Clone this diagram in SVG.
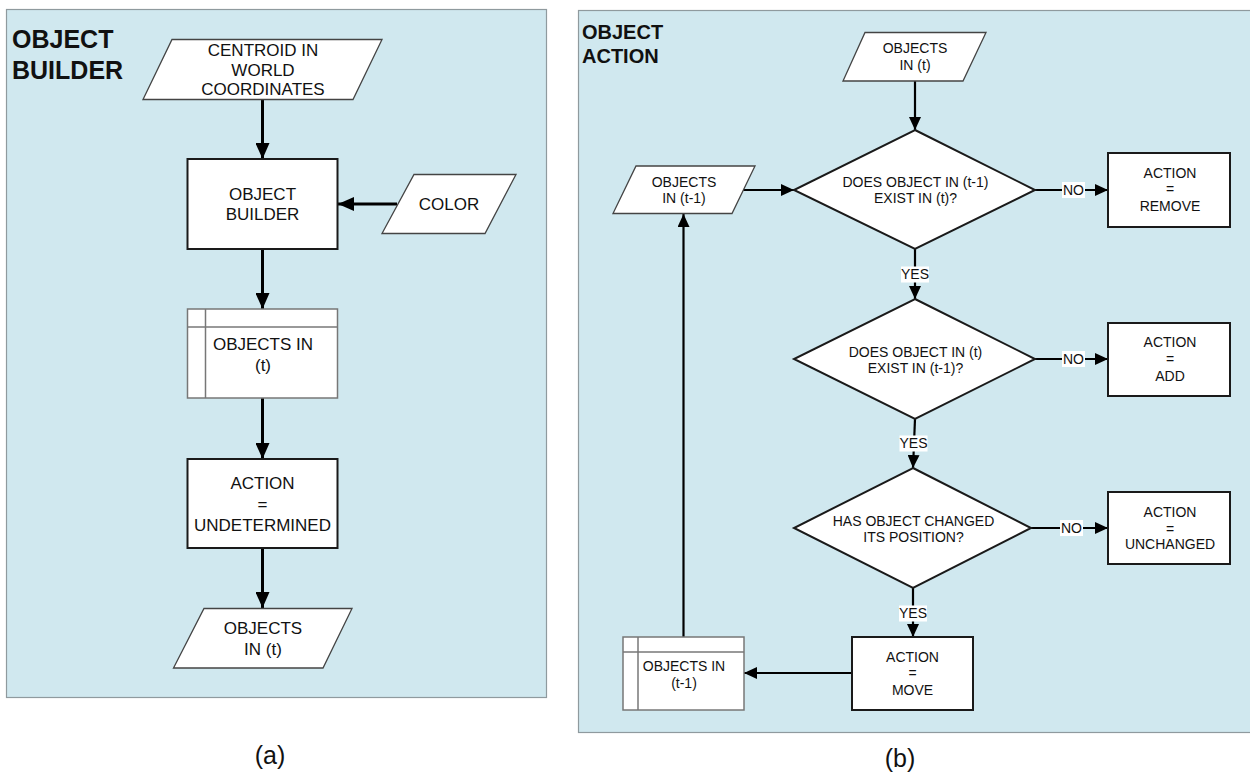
<svg xmlns="http://www.w3.org/2000/svg" width="1250" height="776" viewBox="0 0 1250 776">
  <style>
    text { font-family: "Liberation Sans", Arial, sans-serif; fill: #111; text-anchor: middle; }
    .title { font-weight: bold; text-anchor: start; }
    .t17 { font-size: 17px; }
    .t14 { font-size: 14px; }
    .cap { font-size: 25px; text-anchor: middle; }
    .panel { fill: #d0e8ef; stroke: #8f9a9e; stroke-width: 1.2; }
    .io { fill: #fff; stroke: #444; stroke-width: 1.3; }
    .proc { fill: #fff; stroke: #1a1a1a; stroke-width: 2; }
    .store { fill: #fff; stroke: #777; stroke-width: 1.5; }
    .storeline { fill: none; stroke: #777; stroke-width: 1.5; }
    .dec { fill: #fff; stroke: #1a1a1a; stroke-width: 2; }
    .wireL { fill: none; stroke: #000; stroke-width: 3; marker-end: url(#arrL); }
    .wireR { fill: none; stroke: #000; stroke-width: 2.2; marker-end: url(#arrR); }
    .lblbg { fill: #fff; }
  </style>
  <defs>
    <marker id="arrL" markerUnits="userSpaceOnUse" markerWidth="16" markerHeight="14" refX="16" refY="7" orient="auto">
      <path d="M0,0 L16,7 L0,14 z" fill="#000"/>
    </marker>
    <marker id="arrR" markerUnits="userSpaceOnUse" markerWidth="13" markerHeight="12" refX="13" refY="6" orient="auto">
      <path d="M0,0 L13,6 L0,12 z" fill="#000"/>
    </marker>
  </defs>

  <rect width="1250" height="776" fill="#fff"/>

  <!-- panel (a) -->
  <rect class="panel" x="6.5" y="9.5" width="540" height="688"/>
  <text class="title" x="12" y="48" font-size="25">OBJECT</text>
  <text class="title" x="12" y="79" font-size="25">BUILDER</text>

  <!-- panel (b) -->
  <rect class="panel" x="578.5" y="10.5" width="680" height="722"/>
  <text class="title" x="582" y="39" font-size="20">OBJECT</text>
  <text class="title" x="582" y="63" font-size="20">ACTION</text>

  <!-- connectors -->
  <g id="connectors">
    <line class="wireL" x1="262.5" y1="99" x2="262.5" y2="159"/>
    <line class="wireL" x1="397" y1="204" x2="338" y2="204"/>
    <line class="wireL" x1="262.5" y1="249" x2="262.5" y2="309"/>
    <line class="wireL" x1="262.5" y1="398" x2="262.5" y2="459"/>
    <line class="wireL" x1="262.5" y1="548" x2="262.5" y2="608"/>

    <line class="wireR" x1="915" y1="81" x2="915" y2="130"/>
    <line class="wireR" x1="743" y1="190" x2="794" y2="190"/>
    <line class="wireR" x1="1035" y1="190" x2="1108" y2="190"/>
    <line class="wireR" x1="915" y1="249" x2="915" y2="299"/>
    <line class="wireR" x1="1035" y1="359" x2="1108" y2="359"/>
    <line class="wireR" x1="915" y1="419" x2="913" y2="468"/>
    <line class="wireR" x1="1031" y1="528" x2="1108" y2="528"/>
    <line class="wireR" x1="913" y1="588" x2="913" y2="637"/>
    <line class="wireR" x1="852" y1="673" x2="744" y2="673"/>
    <line class="wireR" x1="683.5" y1="637" x2="683.5" y2="214"/>

    <rect class="lblbg" x="1062" y="182" width="23" height="16"/>
    <text class="t14" x="1073.5" y="195">NO</text>
    <rect class="lblbg" x="1062" y="351" width="23" height="16"/>
    <text class="t14" x="1073.5" y="364">NO</text>
    <rect class="lblbg" x="1060" y="520" width="23" height="16"/>
    <text class="t14" x="1071.5" y="533">NO</text>
    <rect class="lblbg" x="901" y="266.5" width="28" height="16"/>
    <text class="t14" x="915" y="279">YES</text>
    <rect class="lblbg" x="899.5" y="435.5" width="28" height="16"/>
    <text class="t14" x="913.5" y="448">YES</text>
    <rect class="lblbg" x="899" y="605.5" width="28" height="16"/>
    <text class="t14" x="913" y="618">YES</text>
  </g>

  <!-- nodes of panel (a) -->
  <g id="centroid-input">
    <polygon class="io" points="172,39.5 382,39.5 353,99.5 143,99.5"/>
    <text class="t17" x="263" y="56">CENTROID IN</text>
    <text class="t17" x="263" y="76">WORLD</text>
    <text class="t17" x="263" y="95">COORDINATES</text>
  </g>
  <g id="object-builder">
    <rect class="proc" x="187.5" y="159" width="150" height="90"/>
    <text class="t17" x="262.5" y="200">OBJECT</text>
    <text class="t17" x="262.5" y="220">BUILDER</text>
  </g>
  <g id="color-input">
    <polygon class="io" points="414,174.5 516,174.5 485,233.5 382,233.5"/>
    <text class="t17" x="449" y="210">COLOR</text>
  </g>
  <g id="objects-t-store">
    <rect class="store" x="187.5" y="309" width="150" height="89"/>
    <line class="storeline" x1="205.5" y1="309" x2="205.5" y2="398"/>
    <line class="storeline" x1="187.5" y1="327" x2="337.5" y2="327"/>
    <text class="t17" x="263" y="350">OBJECTS IN</text>
    <text class="t17" x="263" y="371">(t)</text>
  </g>
  <g id="action-undetermined">
    <rect class="proc" x="187.5" y="459" width="150" height="89"/>
    <text class="t17" x="262.5" y="489">ACTION</text>
    <text class="t17" x="262.5" y="510">=</text>
    <text class="t17" x="262.5" y="531">UNDETERMINED</text>
  </g>
  <g id="objects-t-output">
    <polygon class="io" points="204,608.5 352,608.5 323,668 173.5,668"/>
    <text class="t17" x="263" y="634">OBJECTS</text>
    <text class="t17" x="263" y="655">IN (t)</text>
  </g>

  <!-- nodes of panel (b) -->
  <g id="objects-t-input">
    <polygon class="io" points="865,32.5 986,32.5 963,81 843,81"/>
    <text class="t14" x="915" y="53">OBJECTS</text>
    <text class="t14" x="915" y="70">IN (t)</text>
  </g>
  <g id="objects-t1-input">
    <polygon class="io" points="636,166 755,166 732,213.5 613,213.5"/>
    <text class="t14" x="684" y="187">OBJECTS</text>
    <text class="t14" x="684" y="203">IN (t-1)</text>
  </g>
  <g id="decision-exists-in-t">
    <polygon class="dec" points="915,130 1035,190 915,249 794,190"/>
    <text class="t14" x="915.5" y="187">DOES OBJECT IN (t-1)</text>
    <text class="t14" x="915.5" y="203">EXIST IN (t)?</text>
  </g>
  <g id="action-remove">
    <rect class="proc" x="1108" y="153" width="122" height="74"/>
    <text class="t14" x="1170" y="178">ACTION</text>
    <text class="t14" x="1170" y="194">=</text>
    <text class="t14" x="1170" y="211">REMOVE</text>
  </g>
  <g id="decision-exists-in-t1">
    <polygon class="dec" points="915,299 1035,359 915,419 794,359"/>
    <text class="t14" x="915.5" y="357">DOES OBJECT IN (t)</text>
    <text class="t14" x="915.5" y="373">EXIST IN (t-1)?</text>
  </g>
  <g id="action-add">
    <rect class="proc" x="1108" y="323" width="122" height="73"/>
    <text class="t14" x="1170" y="347">ACTION</text>
    <text class="t14" x="1170" y="364">=</text>
    <text class="t14" x="1170" y="381">ADD</text>
  </g>
  <g id="decision-position-changed">
    <polygon class="dec" points="913,468 1031,528 913,588 794,528"/>
    <text class="t14" x="913.5" y="526">HAS OBJECT CHANGED</text>
    <text class="t14" x="913.5" y="542">ITS POSITION?</text>
  </g>
  <g id="action-unchanged">
    <rect class="proc" x="1108" y="492" width="122" height="72"/>
    <text class="t14" x="1170" y="517">ACTION</text>
    <text class="t14" x="1170" y="534">=</text>
    <text class="t14" x="1170" y="549">UNCHANGED</text>
  </g>
  <g id="action-move">
    <rect class="proc" x="852" y="637" width="121" height="73"/>
    <text class="t14" x="912.5" y="662">ACTION</text>
    <text class="t14" x="912.5" y="678">=</text>
    <text class="t14" x="912.5" y="695">MOVE</text>
  </g>
  <g id="objects-t1-store">
    <rect class="store" x="623" y="637" width="121" height="73"/>
    <line class="storeline" x1="638" y1="637" x2="638" y2="710"/>
    <line class="storeline" x1="623" y1="652" x2="744" y2="652"/>
    <text class="t14" x="684" y="671">OBJECTS IN</text>
    <text class="t14" x="684" y="688">(t-1)</text>
  </g>

  <!-- sub-figure captions -->
  <text class="cap" x="270" y="764">(a)</text>
  <text class="cap" x="900" y="767">(b)</text>
</svg>
